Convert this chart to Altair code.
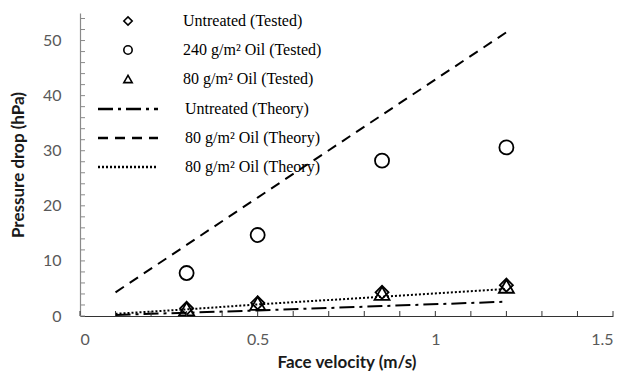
import altair as alt
import pandas as pd

# ---- data ----
tested_names = ["Untreated (Tested)", "240 g/m² Oil (Tested)", "80 g/m² Oil (Tested)"]
tested_vel = [0.3, 0.5, 0.85, 1.2]
untreated_tested = [1.4, 2.4, 4.3, 5.6]
oil240_tested = [7.8, 14.7, 28.2, 30.6]
oil80_tested = [1.3, 2.3, 4.1, 5.4]

theory_keys = ["T1", "T2", "T3"]
theory_labels = ["Untreated (Theory)", "80 g/m² Oil (Theory)", "80 g/m² Oil (Theory)"]
theory_vel = [0.1, 0.3, 0.5, 0.85, 1.2]
untreated_theory = [0.2, 0.6, 1.0, 1.8, 2.6]
oil_dashed_theory = [4.3, 12.9, 21.5, 36.5, 51.5]
oil_dotted_theory = [0.4, 1.2, 2.1, 3.5, 4.9]

x_tick_labels = [0, 0.5, 1, 1.5]
y_tick_labels = [0, 10, 20, 30, 40, 50]
x_minor = [0, 0.1, 0.2, 0.3, 0.4, 0.5, 0.6, 0.7, 0.8, 0.9, 1.0, 1.1, 1.2, 1.3, 1.4, 1.5]
y_minor = [0, 2, 4, 6, 8, 10, 12, 14, 16, 18, 20, 22, 24, 26, 28, 30, 32, 34, 36, 38,
           40, 42, 44, 46, 48, 50, 52, 54]

# ---- tables ----
pts = []
for name, vals in zip(tested_names, [untreated_tested, oil240_tested, oil80_tested]):
    for xv, yv in zip(tested_vel, vals):
        pts.append({"series": name, "x": xv, "y": yv})
pts = pd.DataFrame(pts)

lns = []
for key, vals in zip(theory_keys, [untreated_theory, oil_dashed_theory, oil_dotted_theory]):
    for xv, yv in zip(theory_vel, vals):
        lns.append({"series": key, "x": xv, "y": yv})
lns = pd.DataFrame(lns)

W, H = 533, 303
xs = alt.Scale(domain=[0, 1.5], nice=False, zero=False)
ys = alt.Scale(domain=[0, 55], nice=False)

label_expr = "{" + ",".join(f"'{k}':'{l}'" for k, l in zip(theory_keys, theory_labels)) + "}[datum.label]"

x_axis = alt.Axis(values=x_tick_labels, format="~g", title="Face velocity (m/s)", ticks=False,
                  grid=False, labelFont="Lato", labelFontSize=16, labelColor="#595959",
                  labelPadding=15, titleFont="Lato", titleFontSize=17, titleFontWeight="bold",
                  titleColor="#1a1a1a", titlePadding=7, domainColor="#333", domainWidth=1.2)
y_axis = alt.Axis(values=y_tick_labels, title="Pressure drop (hPa)", ticks=False, grid=False,
                  labelFont="Lato", labelFontSize=16, labelColor="#595959", labelPadding=19,
                  titleFont="Lato", titleFontSize=17, titleFontWeight="bold", titleColor="#1a1a1a",
                  titlePadding=15, domainColor="#8a8a8a", domainWidth=1.2)

lines = alt.Chart(lns).mark_line(color="black", strokeWidth=2).encode(
    x=alt.X("x:Q", scale=xs, axis=x_axis),
    y=alt.Y("y:Q", scale=ys, axis=y_axis),
    strokeDash=alt.StrokeDash(
        "series:N",
        scale=alt.Scale(domain=theory_keys, range=[[15, 5, 3, 5], [10, 7], [2, 2]]),
        legend=alt.Legend(orient="none", legendX=39, legendY=87, title=None,
                          symbolType="M-4,0H4", symbolSize=225, symbolStrokeWidth=2.5,
                          symbolStrokeColor="black", labelFont="Liberation Serif",
                          labelFontSize=16, labelColor="black", labelOffset=48,
                          rowPadding=12, padding=0, labelExpr=label_expr),
    ),
)

points = alt.Chart(pts).mark_point(filled=False, color="black", strokeWidth=1.8, opacity=1).encode(
    x=alt.X("x:Q", scale=xs, axis=x_axis),
    y=alt.Y("y:Q", scale=ys, axis=y_axis),
    shape=alt.Shape(
        "series:N",
        scale=alt.Scale(domain=tested_names, range=["diamond", "circle", "triangle-up"]),
        legend=alt.Legend(orient="none", legendX=40, legendY=0, title=None,
                          symbolSize=70, symbolStrokeWidth=1.6, symbolStrokeColor="black",
                          symbolFillColor="transparent", labelFont="Liberation Serif",
                          labelFontSize=16, labelColor="black", labelOffset=47,
                          rowPadding=13, padding=0),
    ),
    size=alt.Size("series:N", scale=alt.Scale(domain=tested_names, range=[170, 225, 100]),
                  legend=None),
)

xt = alt.Chart(pd.DataFrame({"x": x_minor})).mark_rule(color="#333", strokeWidth=1).encode(
    x=alt.X("x:Q", scale=xs, axis=x_axis),
    y=alt.value(H), y2=alt.value(H - 5),
)
yt = alt.Chart(pd.DataFrame({"y": y_minor})).mark_rule(color="#8a8a8a", strokeWidth=1).encode(
    y=alt.Y("y:Q", scale=ys, axis=y_axis),
    x=alt.value(0), x2=alt.value(5),
)

chart = alt.layer(lines, points, xt, yt).properties(
    width=W, height=H, autosize=alt.AutoSizeParams(type="none"),
    padding={"left": 80, "top": 13, "right": 14, "bottom": 61},
).configure_view(stroke=None).resolve_legend(shape="independent", strokeDash="independent")

chart.save("out.html", embed_options={"renderer": "svg", "actions": False})
